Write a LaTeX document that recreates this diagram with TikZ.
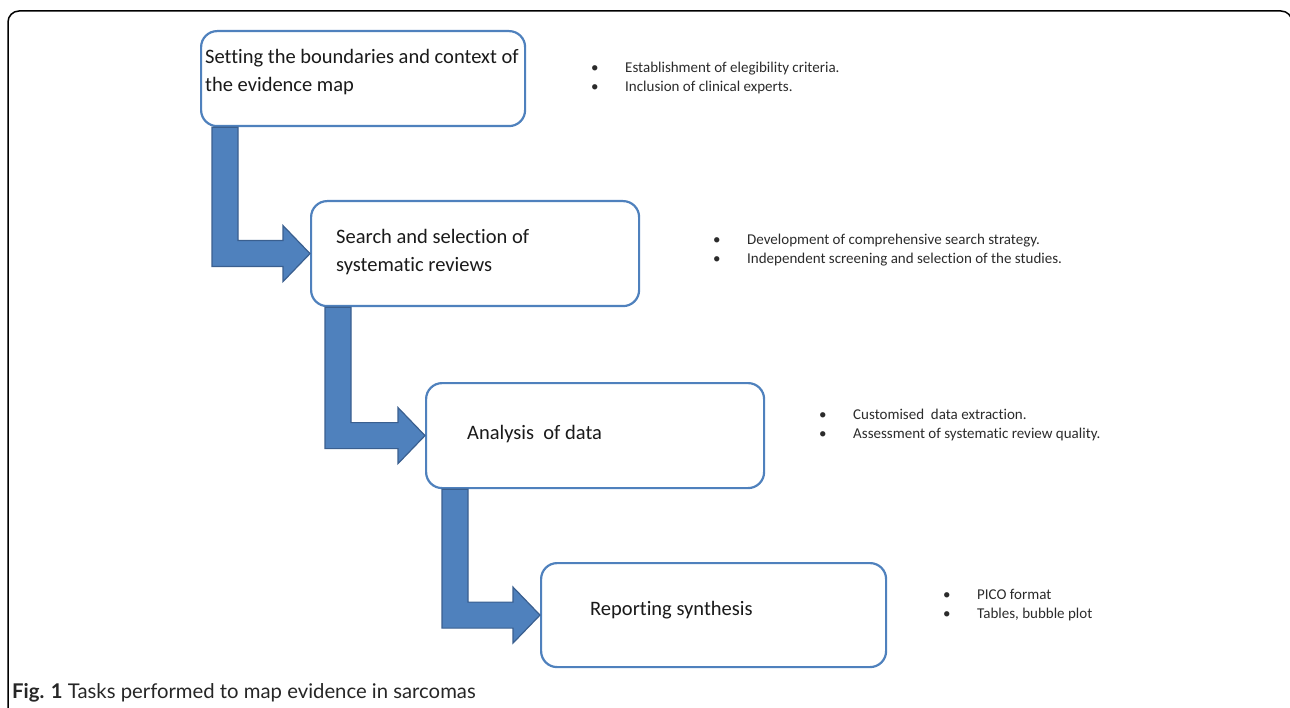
\documentclass[tikz,border=0pt]{standalone}
\usepackage{fontspec}
\setmainfont{Carlito}[Ligatures=NoCommon]
\newfontfamily\capfont{Lato}
\usetikzlibrary{calc}
\definecolor{boxblue}{HTML}{4F81BD}
\definecolor{arrowfill}{HTML}{4F81BD}
\definecolor{arrowline}{HTML}{3A5F8F}
\definecolor{boxtextcol}{HTML}{1A1A1A}
\definecolor{bullettextcol}{HTML}{2B2B2B}
\newcommand{\bentarrow}[3]{%
  \draw[bentarr] let \p1=(#1.south west), \p2=(#2.west) in
   (\x1+#3,\y1) -- (\x1+#3+26pt,\y1) -- (\x1+#3+26pt,\y2+13pt) -- (\x2-27pt,\y2+13pt)
   -- (\x2-27pt,\y2+28pt) -- (\x2,\y2) -- (\x2-27pt,\y2-28pt) -- (\x2-27pt,\y2-13pt)
   -- (\x1+#3,\y2-13pt) -- cycle;}
\begin{document}
\begin{tikzpicture}[x=1pt,y=-1pt,
  stepbox/.style={draw=boxblue, line width=2.2pt, rounded corners=16pt, fill=white,
    inner sep=0pt, anchor=north west},
  boxtext/.style={anchor=west, inner sep=0pt, align=left, text=boxtextcol,
    font=\fontsize{20.5}{27.5}\selectfont},
  bullets/.style={anchor=west, inner sep=0pt, align=left, text=bullettextcol,
    font=\fontsize{15}{18.5}\selectfont},
  bentarr/.style={fill=arrowfill, draw=arrowline, line width=1.2pt, line join=miter},
  frame/.style={draw=black, line width=1.5pt, rounded corners=11pt}
]
\useasboundingbox (0,0) rectangle (1290,708);
\begin{scope}
\clip (0,0) rectangle (1290,708);
\draw[frame] (8,11) rectangle (1292,760);
\end{scope}

% boxes
\node[stepbox, minimum width=324pt, minimum height=95pt] (b1) at (200,30) {};
\node[stepbox, minimum width=328pt, minimum height=105pt] (b2) at (310,200) {};
\node[stepbox, minimum width=338pt, minimum height=105pt] (b3) at (425,382) {};
\node[stepbox, minimum width=345pt, minimum height=104pt] (b4) at (540,562) {};

% arrows
\bentarrow{b1}{b2}{12pt}
\bentarrow{b2}{b3}{15pt}
\bentarrow{b3}{b4}{17pt}

% box texts
\node[boxtext] (t1) at (205,72) {Setting the boundaries and context of\\the evidence map};
\node[boxtext] (t2) at (336,252) {Search and selection of\\systematic reviews};
\node[boxtext] (t3) at (467,434) {Analysis\ \ of data};
\node[boxtext] (t4) at (590,610) {Reporting synthesis};

% bullet lists
\node[bullets] (l1) at (591,78) {\makebox[34pt][l]{•}Establishment of elegibility criteria.\\\makebox[34pt][l]{•}Inclusion of clinical experts.};
\node[bullets] (l2) at (713,250) {\makebox[34pt][l]{•}Development of comprehensive search strategy.\\\makebox[34pt][l]{•}Independent screening and selection of the studies.};
\node[bullets] (l3) at (819,425) {\makebox[34pt][l]{•}Customised\ \ data extraction.\\\makebox[34pt][l]{•}Assessment of systematic review quality.};
\node[bullets] (l4) at (943,605) {\makebox[34pt][l]{•}PICO format\\\makebox[34pt][l]{•}Tables, bubble plot};

% caption
\node[anchor=base west, inner sep=0pt, font=\capfont\fontsize{20.3}{24}\selectfont, text=black!85] (cap) at (12,698)
  {{\bfseries Fig. 1} Tasks performed to map evidence in sarcomas};
\end{tikzpicture}
\end{document}
